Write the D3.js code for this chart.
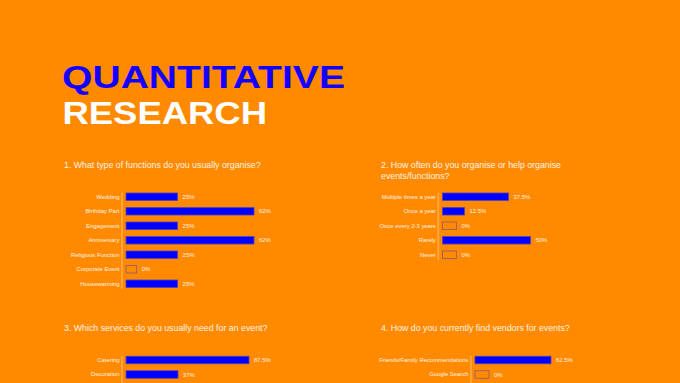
<!DOCTYPE html>
<html><head><meta charset="utf-8">
<script src="https://cdn.jsdelivr.net/npm/d3@7"></script>
<style>html,body{margin:0;padding:0;background:#FF8A00;overflow:hidden}svg{display:block}</style>
</head><body>
<script>
const q1Title = ["1. What type of functions do you usually organise?"];
const q1Cats = ["Wedding","Birthday Part","Engagement","Anniversary","Religious Function","Corporate Event","Housewarming"];
const q1Vals = [25,62,25,62,25,0,25];
const q1Labels = ["25%","62%","25%","62%","25%","0%","25%"];

const q2Title = ["2. How often do you organise or help organise","events/functions?"];
const q2Cats = ["Multiple times a year","Once a year","Once every 2-3 years","Rarely","Never"];
const q2Vals = [37.5,12.5,0,50,0];
const q2Labels = ["37.5%","12.5%","0%","50%","0%"];

const q3Title = ["3. Which services do you usually need for an event?"];
const q3Cats = ["Catering","Decoration"];
const q3Vals = [87.5,37];
const q3Labels = ["87.5%","37%"];

const q4Title = ["4. How do you currently find vendors for events?"];
const q4Cats = ["Friends/Family Recommendations","Google Search"];
const q4Vals = [62.5,0];
const q4Labels = ["62.5%","0%"];

const W=680,H=383;
const svg=d3.select("body").append("svg").attr("width",W).attr("height",H);
svg.append("rect").attr("width",W).attr("height",H).attr("fill","#FF8A00");

const F="'Liberation Sans', Arial, sans-serif";
svg.append("text").attr("x",62).attr("y",87.5).attr("fill","#1400FF")
  .attr("font-family",F).attr("font-weight",700).attr("font-size",31.5)
  .attr("textLength",283).attr("lengthAdjust","spacingAndGlyphs").text("QUANTITATIVE");
svg.append("text").attr("x",62.5).attr("y",124).attr("fill","#FFFFFF")
  .attr("font-family",F).attr("font-weight",700).attr("font-size",31.5)
  .attr("textLength",204.5).attr("lengthAdjust","spacingAndGlyphs").text("RESEARCH");

function chart(o){
  const g=svg.append("g");
  o.title.forEach((t,i)=>{
    g.append("text").attr("x",o.tx).attr("y",o.ty+i*11.3).attr("fill","#FFF3E6")
      .attr("font-family",F).attr("font-size",8.8).text(t);
  });
  const y=d3.scaleBand().domain(o.cats).range([o.y0,o.y0+o.cats.length*14.5]).paddingInner(0.48).paddingOuter(0.24);
  const x=d3.scaleLinear().domain([0,o.max]).range([o.bx,o.bx+o.maxW]);
  g.append("line").attr("x1",o.ax).attr("x2",o.ax).attr("y1",o.y0+3.2).attr("y2",o.lineEnd!=null?o.lineEnd:o.y0+o.cats.length*14.5-2)
    .attr("stroke","#FFAA45").attr("stroke-width",1.6);
  const yAxis=d3.axisLeft(y).tickSize(0).tickPadding(0);
  const ag=g.append("g").attr("transform",`translate(${o.ax-2.5},0)`).call(yAxis);
  ag.select(".domain").remove();
  ag.selectAll("text").attr("fill","#FFF3E6").attr("font-family",F).attr("font-size",5.9);
  const bw=d=>d.v===0?o.zeroW:x(d.v)-o.bx;
  const data=o.cats.map((c,i)=>({c,v:o.vals[i],l:o.labels[i]}));
  g.selectAll("rect.bar").data(data).join("rect").attr("class","bar")
    .attr("x",o.bx).attr("y",d=>y(d.c)).attr("width",bw).attr("height",y.bandwidth())
    .attr("fill",d=>d.v===0?"#FF8A00":"#0000FF")
    .attr("stroke",d=>d.v===0?"#8E5A78":"#5A3FB8").attr("stroke-width",0.8);
  g.selectAll("text.val").data(data).join("text").attr("class","val")
    .attr("x",d=>o.bx+bw(d)+5).attr("y",d=>y(d.c)+y.bandwidth()/2).attr("dy","0.35em")
    .attr("fill","#FFF3E6").attr("font-family",F).attr("font-size",5.9).text(d=>d.l);
}

chart({title:q1Title,tx:64,ty:168,cats:q1Cats,vals:q1Vals,labels:q1Labels,max:62,maxW:128,bx:126,ax:122,y0:189.5,zeroW:10.7});
chart({title:q2Title,tx:381,ty:168,cats:q2Cats,vals:q2Vals,labels:q2Labels,max:50,maxW:88,bx:442.5,ax:438.3,y0:189.5,zeroW:14});
chart({title:q3Title,tx:64,ty:330.7,cats:q3Cats,vals:q3Vals,labels:q3Labels,max:87.5,maxW:123,bx:126,ax:122,y0:352.75,lineEnd:390,zeroW:10.7});
chart({title:q4Title,tx:381,ty:330.7,cats:q4Cats,vals:q4Vals,labels:q4Labels,max:62.5,maxW:76,bx:475,ax:471,y0:352.75,lineEnd:390,zeroW:14});
</script>
</body></html>
